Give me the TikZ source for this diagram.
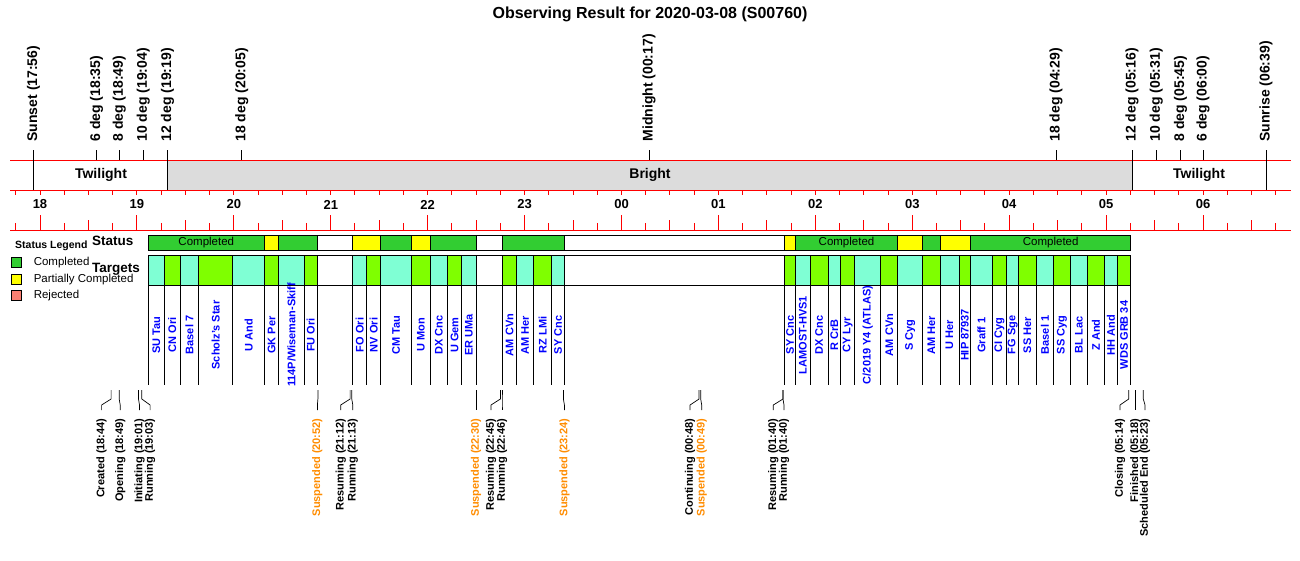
\documentclass[tikz,border=0pt]{standalone}
\usepackage{fontspec}
\setmainfont{Liberation Sans}
\usetikzlibrary{positioning}
\definecolor{done}{RGB}{50,205,50}
\definecolor{part}{RGB}{255,255,0}
\definecolor{rej}{RGB}{250,128,114}
\definecolor{aq}{RGB}{127,255,212}
\definecolor{ch}{RGB}{127,255,0}
\definecolor{sky}{RGB}{220,220,220}
\definecolor{susp}{RGB}{255,140,0}

\begin{document}
\begin{tikzpicture}[x=1pt,y=-1pt,line width=1pt,
   skylbl/.style={rotate=90,anchor=west,inner sep=0pt,font=\bfseries\fontsize{14}{14}\selectfont},
   hrlbl/.style={inner sep=0pt,font=\bfseries\fontsize{13}{13}\selectfont},
   bandlbl/.style={inner sep=0pt,font=\bfseries\fontsize{14}{14}\selectfont},
   tgtlbl/.style={rotate=90,inner sep=0pt,text=blue,font=\bfseries\fontsize{11}{11}\selectfont},
   evtlbl/.style={rotate=90,anchor=east,inner sep=0pt,font=\bfseries\fontsize{11}{11}\selectfont},
   rowlbl/.style={anchor=west,inner sep=0pt,font=\bfseries\fontsize{13.5}{13.5}\selectfont},
   axis/.style={red,line width=1pt},
   legbox/.style={draw,minimum size=10pt,inner sep=0pt},
   legtxt/.style={anchor=west,inner sep=0pt,font=\fontsize{11.5}{11.5}\selectfont}]
   \useasboundingbox (0,0) rectangle (1300,560);
   \node[font=\bfseries\fontsize{16}{16}\selectfont] (title) at (650,14) {Observing Result for 2020-03-08 (S00760)};

   \fill[sky] (167.6,160) rectangle (1132.1,190);
   \draw[axis] (10,160) -- (1291,160);
   \draw[axis] (10,190) -- (1291,190);
   \draw[axis] (10,230) -- (1291,230);
   \foreach \i in {0,...,52} {
      \draw[axis] ({15.77+24.23*\i},190) -- ++(0,5);
      \draw[axis] ({15.77+24.23*\i},230) -- ++(0,-7);
   }
   \foreach \i in {0,...,12} {
      \draw[axis] ({40+96.92*\i},230) -- ++(0,-15);
      \draw[axis] ({88.46+96.92*\i},230) -- ++(0,-10);
   }
   \foreach \h [count=\i from 0] in {18,19,20,21,22,23,00,01,02,03,04,05,06}
      \node[hrlbl] (hr\i) at ({40+96.92*\i},204.5) {\h};

   \node[bandlbl] (tw1) at (101,175) {Twilight};
   \node[bandlbl] (bright) at (650,175) {Bright};
   \node[bandlbl] (tw2) at (1199,175) {Twilight};

   \foreach \x/\e/\t [count=\i] in {33.5/190/Sunset (17:56), 96.5/160/6 deg (18:35),
      119.2/160/8 deg (18:49), 143.4/160/10 deg (19:04), 167.6/190/12 deg (19:19),
      241.9/160/18 deg (20:05), 649/160/Midnight (00:17), 1056/160/18 deg (04:29),
      1132.1/190/12 deg (05:16), 1156.2/160/10 deg (05:31), 1180.4/160/8 deg (05:45),
      1203/160/6 deg (06:00), 1266/190/Sunrise (06:39)} {
      \node[skylbl] (sky\i) at (\x,142) {\t};
      \draw ([yshift=-8pt]sky\i.west) -- (\x,\e);
   }

   \node[font=\bfseries\fontsize{10.5}{10.5}\selectfont,anchor=west,inner sep=0pt] (leg) at (14.7,246) {Status Legend};
   \node[legbox,fill=done] (lg1) at (16.3,262.7) {};
   \node[legbox,fill=part,below=5.6pt of lg1] (lg2) {};
   \node[legbox,fill=rej,below=5.6pt of lg2] (lg3) {};
   \node[legtxt,right=11.5pt of lg1] (lt1) {Completed};
   \node[legtxt,right=11.5pt of lg2] (lt2) {Partially Completed};
   \node[legtxt,right=11.5pt of lg3] (lt3) {Rejected};

   \foreach \a/\b/\c/\t [count=\i] in {148.3/264.3/done/Completed, 264.3/278.7/part/,
      278.7/317.3/done/, 352.7/380.7/part/, 380.7/411.7/done/, 411.7/430.3/part/,
      430.3/476/done/, 502.3/564.3/done/, 784.7/795.3/part/, 795.3/897.7/done/Completed,
      897.7/922.7/part/, 922.7/940/done/, 940/970.7/part/, 970.7/1130.7/done/Completed} {
      \draw[fill=\c] (\a,235) rectangle (\b,250.5);
      \node[font=\fontsize{11.5}{11.5}\selectfont] (st\i) at ({(\a+\b)/2},243) {\t};
   }
   \draw (148.3,235) rectangle (1130.7,250.5);

   \foreach \a/\b/\c/\t [count=\i] in {148.3/164.3/aq/SU Tau, 164.3/180.3/ch/CN Ori,
      180.3/198.7/aq/Basel 7, 198.7/232.5/ch/Scholz's Star, 232.5/264.7/aq/U And,
      264.7/278.7/ch/GK Per, 278.7/304.3/aq/{114P/Wiseman-Skiff}, 304.3/317.3/ch/FU Ori,
      352.7/366.7/aq/FO Ori, 366.7/380.7/ch/NV Ori, 380.7/411.7/aq/CM Tau,
      411.7/430.3/ch/U Mon, 430.3/447.3/aq/DX Cnc, 447.3/461.7/ch/U Gem,
      461.7/476/aq/ER UMa, 502.3/516.7/ch/AM CVn, 516.7/533.7/aq/AM Her,
      533.7/551.7/ch/RZ LMi, 551.7/564.3/aq/SY Cnc, 784.7/795.3/ch/SY Cnc,
      795.3/810.3/aq/LAMOST-HVS1, 810.3/828/ch/DX Cnc, 828/840.7/aq/R CrB,
      840.7/854.7/ch/CY Lyr, 854.7/880.7/aq/{C/2019 Y4 (ATLAS)}, 880.7/897.7/ch/AM CVn,
      897.7/922.7/aq/S Cyg, 922.7/940/ch/AM Her, 940/959/aq/U Her,
      959/970.7/ch/HIP 87937, 970.7/992.3/aq/Graff 1, 992.3/1006.7/ch/CI Cyg,
      1006.7/1018.7/aq/FG Sge, 1018.7/1036/ch/SS Her, 1036/1053.7/aq/Basel 1,
      1053.7/1070/ch/SS Cyg, 1070/1087.7/aq/BL Lac, 1087.7/1104/ch/Z And,
      1104/1117.7/aq/HH And, 1117.7/1130.7/ch/WDS GRB 34} {
      \draw[fill=\c] (\a,255) rectangle (\b,285);
      \draw (\a,285) -- (\a,385) (\b,285) -- (\b,385);
      \node[tgtlbl] (tg\i) at ({(\a+\b)/2},335) {\t};
   }
   \draw (148.3,255) rectangle (1130.7,285);

   \node[rowlbl] (status) at (91.7,241) {Status};
   \node[rowlbl] (targets) at (91.7,269.5) {Targets};

   \foreach \x/\dx/\c/\t [count=\i] in {111.1/-9.5/black/Created (18:44),
      119.2/1/black/Opening (18:49), 138.5/1/black/Initiating (19:01),
      141.8/8.3/black/Running (19:03), 317.9/-0.5/susp/Suspended (20:52),
      350.1/-9.4/black/Resuming (21:12), 351.8/1/black/Running (21:13),
      476.1/0/susp/Suspended (22:30), 500.4/-9.4/black/Resuming (22:45),
      502/0/black/Running (22:46), 563.4/1/susp/Suspended (23:24),
      699/-9/black/Continuing (00:48), 700.7/1/susp/Suspended (00:49),
      783/-9.7/black/Resuming (01:40), 783/1/black/Running (01:40),
      1128.7/-8.7/black/Closing (05:14), 1135.2/0/black/Finished (05:18),
      1143.3/1.7/black/Scheduled End (05:23)} {
      \coordinate (ev\i) at (\x,390);
      \node[evtlbl,text=\c] (el\i) at ({\x+\dx},418) {\t};
      \draw[line width=0.7pt] (ev\i) -- ++(0,9) -- ([yshift=13pt]el\i.east) -- ([yshift=8pt]el\i.east);
   }
\end{tikzpicture}
\end{document}
